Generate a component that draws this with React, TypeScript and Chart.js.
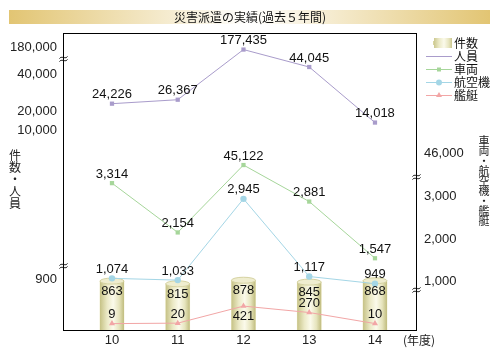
import React, { useEffect, useRef } from "react";
import { Chart, registerables } from "chart.js";

Chart.register(...registerables);

// ---- data ----
const years = [10, 11, 12, 13, 14];
const cases = [863, 815, 878, 845, 868]; // 件数
const personnel = [24226, 26367, 177435, 44045, 14018]; // 人員
const vehicles = [3314, 2154, 45122, 2881, 1547]; // 車両
const aircraft = [1074, 1033, 2945, 1117, 949]; // 航空機
const vessels = [9, 20, 421, 270, 10]; // 艦艇
const leftTicks = [900, 10000, 20000, 40000, 180000];
const rightTicks = [1000, 2000, 3000, 46000];
const titleText = "災害派遣の実績(過去５年間)";
const leftTitle = ["件", "数", "・", "人", "員"];
const rightTitle = ["車", "両", "・", "航", "空", "機", "・", "艦", "艇"];

// broken-axis transforms (value -> position units on the shared hidden axis)
function leftPos(v: number) {
  if (v <= 5000) return (v * 51) / 900;
  if (v <= 100000) return 200 + (v - 10000) * 0.00185;
  return 283 + (v - 180000) * 0.001;
}
function rightPos(v: number) {
  if (v <= 10000) return 6 + v * 0.0425;
  return 177 + (v - 46000) * 0.0137;
}
const leftBreaks = [64, 271];
const rightBreaks = [40, 153];

const COL = {
  personnel: "#a99ccb",
  vehicles: "#a6d69a",
  aircraft: "#a4d6e6",
  vessels: "#f2a6a6",
};
const NUM_FONT = "13px 'Liberation Sans', Arial, sans-serif";
const CJK_FONT = "12px 'Noto Sans CJK JP', sans-serif";
const fmt = (v: number) => v.toLocaleString("en-US");

function barGradient(ctx: CanvasRenderingContext2D, cx: number, half: number) {
  const g = ctx.createLinearGradient(cx - half, 0, cx + half, 0);
  g.addColorStop(0, "#c6c286");
  g.addColorStop(0.3, "#ebe9c6");
  g.addColorStop(0.55, "#fbfaeb");
  g.addColorStop(0.8, "#e6e4bd");
  g.addColorStop(1, "#c0bc7e");
  return g;
}

function drawBreak(ctx: CanvasRenderingContext2D, x: number, y: number) {
  ctx.save();
  ctx.strokeStyle = "#000";
  ctx.lineWidth = 1;
  for (const off of [-1.5, 1.5]) {
    ctx.beginPath();
    ctx.moveTo(x - 4, y + off + 1);
    ctx.bezierCurveTo(x - 2, y + off - 2, x + 2, y + off + 2, x + 4, y + off - 1);
    ctx.stroke();
  }
  ctx.restore();
}

const decorPlugin = {
  id: "decor",
  beforeDraw(chart: any) {
    const ctx = chart.ctx as CanvasRenderingContext2D;
    ctx.save();
    ctx.fillStyle = "#fff";
    ctx.fillRect(0, 0, chart.width, chart.height);
    // title banner
    const g = ctx.createLinearGradient(9, 0, 490, 0);
    g.addColorStop(0, "#e2c573");
    g.addColorStop(0.5, "#ffffff");
    g.addColorStop(1, "#e2c573");
    ctx.fillStyle = g;
    ctx.fillRect(9, 10, 481, 14);
    ctx.fillStyle = "#111";
    ctx.font = CJK_FONT;
    ctx.textAlign = "center";
    ctx.textBaseline = "middle";
    ctx.fillText(titleText, 250, 17);
    ctx.restore();
  },
  afterDatasetDraw(chart: any, args: any) {
    if (args.index !== 0) return;
    const ctx = chart.ctx as CanvasRenderingContext2D;
    const meta = chart.getDatasetMeta(0);
    ctx.save();
    meta.data.forEach((bar: any) => {
      const half = bar.width / 2;
      ctx.fillStyle = barGradient(ctx, bar.x, half);
      ctx.fillRect(bar.x - half, bar.y, half * 2, bar.base - bar.y);
      ctx.beginPath();
      ctx.ellipse(bar.x, bar.y, half, 3, 0, 0, Math.PI * 2);
      ctx.fillStyle = "#efedcf";
      ctx.fill();
      ctx.strokeStyle = "#d6d3a2";
      ctx.lineWidth = 1;
      ctx.stroke();
    });
    ctx.restore();
  },
  afterDatasetsDraw(chart: any) {
    const ctx = chart.ctx as CanvasRenderingContext2D;
    const { left, right, top, bottom } = chart.chartArea;
    const xs = chart.scales.x;
    const ys = chart.scales.y;
    ctx.save();
    // frame
    ctx.strokeStyle = "#000";
    ctx.lineWidth = 1;
    ctx.strokeRect(Math.round(left) + 0.5, Math.round(top) + 0.5, Math.round(right - left), Math.round(bottom - top));
    leftBreaks.forEach((p) => drawBreak(ctx, Math.round(left) + 0.5, ys.getPixelForValue(p)));
    rightBreaks.forEach((p) => drawBreak(ctx, Math.round(right) + 0.5, ys.getPixelForValue(p)));

    // tick labels
    ctx.fillStyle = "#222";
    ctx.font = NUM_FONT;
    ctx.textBaseline = "middle";
    ctx.textAlign = "right";
    leftTicks.forEach((v) => ctx.fillText(fmt(v), left - 6, ys.getPixelForValue(leftPos(v))));
    ctx.textAlign = "left";
    rightTicks.forEach((v) => ctx.fillText(fmt(v), right + 8, ys.getPixelForValue(rightPos(v))));
    ctx.textAlign = "center";
    years.forEach((yr) => ctx.fillText(String(yr), xs.getPixelForValue(yr), bottom + 10));
    ctx.font = CJK_FONT;
    ctx.textAlign = "left";
    ctx.fillText("(年度)", right - 13, bottom + 10);

    // axis titles (vertical)
    ctx.textAlign = "center";
    leftTitle.forEach((c, i) => ctx.fillText(c, 15, 155 + i * 12.2));
    ctx.font = "11px 'Noto Sans CJK JP', sans-serif";
    rightTitle.forEach((c, i) => ctx.fillText(c, 484, 141 + i * 10));

    // data labels
    ctx.font = NUM_FONT;
    ctx.fillStyle = "#111";
    const barMeta = chart.getDatasetMeta(0);
    const barLabelY: number[] = [];
    barMeta.data.forEach((bar: any, i: number) => {
      const y = bar.y + 10.5;
      barLabelY.push(y);
      ctx.fillText(fmt(cases[i]), bar.x, y);
    });
    const series = [personnel, vehicles, aircraft, vessels];
    series.forEach((vals, si) => {
      const meta = chart.getDatasetMeta(si + 1);
      meta.data.forEach((pt: any, i: number) => {
        let y = pt.y - 9;
        if (si === 3 && Math.abs(y - barLabelY[i]) < 10) y = pt.y + 10;
        ctx.fillText(fmt(vals[i]), pt.x, y);
      });
    });

    // legend
    const lx0 = 426, lx1 = 452, tx = 454;
    const rows = [43, 56, 69, 82, 95];
    ctx.fillStyle = barGradient(ctx, 443, 10);
    ctx.fillRect(434, 38, 18, 10);
    ctx.fillStyle = "#d8d5a0";
    ctx.fillRect(433, 41, 1, 4);
    const legendLines = [
      { c: COL.personnel, s: "none" },
      { c: COL.vehicles, s: "rect" },
      { c: COL.aircraft, s: "circle" },
      { c: COL.vessels, s: "tri" },
    ];
    legendLines.forEach((l, i) => {
      const y = rows[i + 1] + 0.5;
      ctx.strokeStyle = l.c;
      ctx.beginPath();
      ctx.moveTo(lx0, y);
      ctx.lineTo(lx1, y);
      ctx.stroke();
      ctx.fillStyle = l.c;
      const cx = 439;
      if (l.s === "rect") ctx.fillRect(cx - 2, y - 2, 4, 4);
      if (l.s === "circle") {
        ctx.beginPath();
        ctx.arc(cx, y, 3, 0, Math.PI * 2);
        ctx.fill();
      }
      if (l.s === "tri") {
        ctx.beginPath();
        ctx.moveTo(cx, y - 3.5);
        ctx.lineTo(cx + 3, y + 1.5);
        ctx.lineTo(cx - 3, y + 1.5);
        ctx.closePath();
        ctx.fill();
      }
    });
    ctx.fillStyle = "#111";
    ctx.font = CJK_FONT;
    ctx.textAlign = "left";
    ["件数", "人員", "車両", "航空機", "艦艇"].forEach((t, i) => ctx.fillText(t, tx, rows[i]));
    ctx.restore();
  },
};

export default function App() {
  const ref = useRef<HTMLCanvasElement | null>(null);
  useEffect(() => {
    document.body.style.margin = "0";
    if (!ref.current) return;
    const lineDs = (label: string, vals: number[], color: string, style: any, radius: number) => ({
      type: "line" as const,
      label,
      data: years.map((x, i) => ({ x, y: label === "人員" ? leftPos(vals[i]) : rightPos(vals[i]) })),
      borderColor: color,
      backgroundColor: color,
      borderWidth: 1,
      pointStyle: style,
      pointRadius: radius,
      pointBorderWidth: 0,
      tension: 0,
      order: 0,
    });
    const chart = new Chart(ref.current, {
      type: "bar",
      data: {
        datasets: [
          {
            type: "bar",
            label: "件数",
            data: years.map((x, i) => ({ x, y: leftPos(cases[i]) })),
            barThickness: 24,
            backgroundColor: "#eeecc8",
            borderWidth: 0,
            order: 10,
          } as any,
          lineDs("人員", personnel, COL.personnel, "rect", 3),
          lineDs("車両", vehicles, COL.vehicles, "rect", 3),
          lineDs("航空機", aircraft, COL.aircraft, "circle", 3.2),
          lineDs("艦艇", vessels, COL.vessels, "triangle", 3.5),
        ],
      },
      options: {
        responsive: false,
        animation: false,
        layout: { padding: { left: 63, right: 84, top: 33, bottom: 26 } },
        plugins: { legend: { display: false }, tooltip: { enabled: false } },
        scales: {
          x: { type: "linear", min: 9.255, max: 14.624, offset: false, display: false, grid: { offset: false } },
          y: { type: "linear", min: 0, max: 297, display: false },
        },
      } as any,
      plugins: [decorPlugin],
    });
    return () => chart.destroy();
  }, []);
  return (
    <div style={{ width: 500, height: 356 }}>
      <canvas ref={ref} width={500} height={356} style={{ display: "block" }} />
    </div>
  );
}
